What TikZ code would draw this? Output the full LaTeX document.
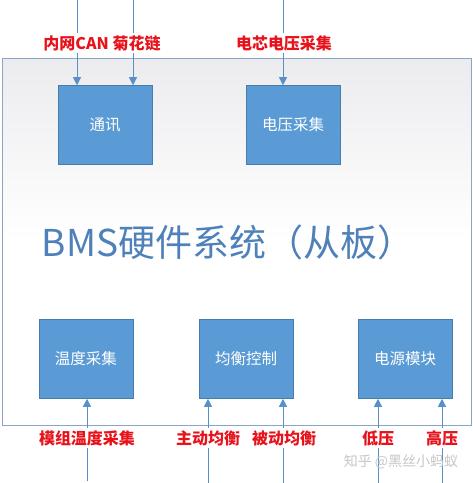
\documentclass[tikz,border=0pt]{standalone}
\usepackage{fontspec}
\setmainfont{Noto Sans CJK SC}
\usetikzlibrary{arrows.meta}
\definecolor{boxblue}{HTML}{5B9BD5}
\definecolor{linkblue}{HTML}{5B8FC9}
\definecolor{framecol}{HTML}{8AA6C6}
\definecolor{titleblue}{HTML}{4E80BA}
\definecolor{labred}{HTML}{E8121B}
\def\wid{94pt}
\def\hei{79pt}

\begin{document}
\begin{tikzpicture}[x=1pt,y=-1pt,>={Triangle[width=8pt,length=8pt]}]
\tikzset{
  unit/.style={draw=boxblue!80!black,line width=0.6pt,fill=boxblue,text=white,minimum width=\wid,minimum height=\hei,font=\fontsize{15.5}{15.5}\selectfont,inner sep=0pt},
  sig/.style={->,linkblue,line width=0.8pt},
  lab/.style={fill=white,text=labred,font=\fontsize{16}{16}\selectfont\bfseries,inner sep=2pt}
}
\useasboundingbox (0,0) rectangle (473,483);
% frame
\shade[top color=blue!8!gray!14,bottom color=white,middle color=white] (2,58) rectangle (471,425);
\draw[framecol,line width=0.8pt] (2,58) rectangle (471,425);
\node[text=titleblue,font=\fontsize{37}{37}\selectfont] (title) at (228,242) {BMS硬件系统（从板）};
% blocks
\node[unit] (comm) at (105,125) {通讯};
\node[unit] (volt) at (293,125) {电压采集};
\node[unit] (temp) at (86,359) {温度采集};
\node[unit] (bal) at (246,359) {均衡控制};
\node[unit] (power) at (405,359) {电源模块};
% inputs
\coordinate (in0) at (77,0);
\coordinate (in1) at (133,0);
\coordinate (in2) at (283,0);
\coordinate (in3) at (87,481);
\coordinate (in4) at (208,483);
\coordinate (in5) at (283,483);
\coordinate (in6) at (378,483);
\coordinate (in7) at (442,483);
\draw[sig] (in0) to (in0 |- comm.north);
\draw[sig] (in1) to (in1 |- comm.north);
\draw[sig] (in2) to (in2 |- volt.north);
\draw[sig] (in3) to (in3 |- temp.south);
\draw[sig] (in4) to (in4 |- bal.south);
\draw[sig] (in5) to (in5 |- bal.south);
\draw[sig] (in6) to (in6 |- power.south);
\draw[sig] (in7) to (in7 |- power.south);
% labels
\node[lab] (can) at (102,43) {内网CAN 菊花链};
\node[lab] (cell) at (284,43) {电芯电压采集};
\node[lab] (mod) at (87,438) {模组温度采集};
\node[lab] (act) at (208,438) {主动均衡};
\node[lab] (pas) at (284,438) {被动均衡};
\node[lab] (lv) at (378,438) {低压};
\node[lab] (hv) at (442,438) {高压};
\node[text=gray!45,font=\fontsize{14}{14}\selectfont] (mark) at (401,462) {知乎 @黑丝小蚂蚁};
\end{tikzpicture}
\end{document}
